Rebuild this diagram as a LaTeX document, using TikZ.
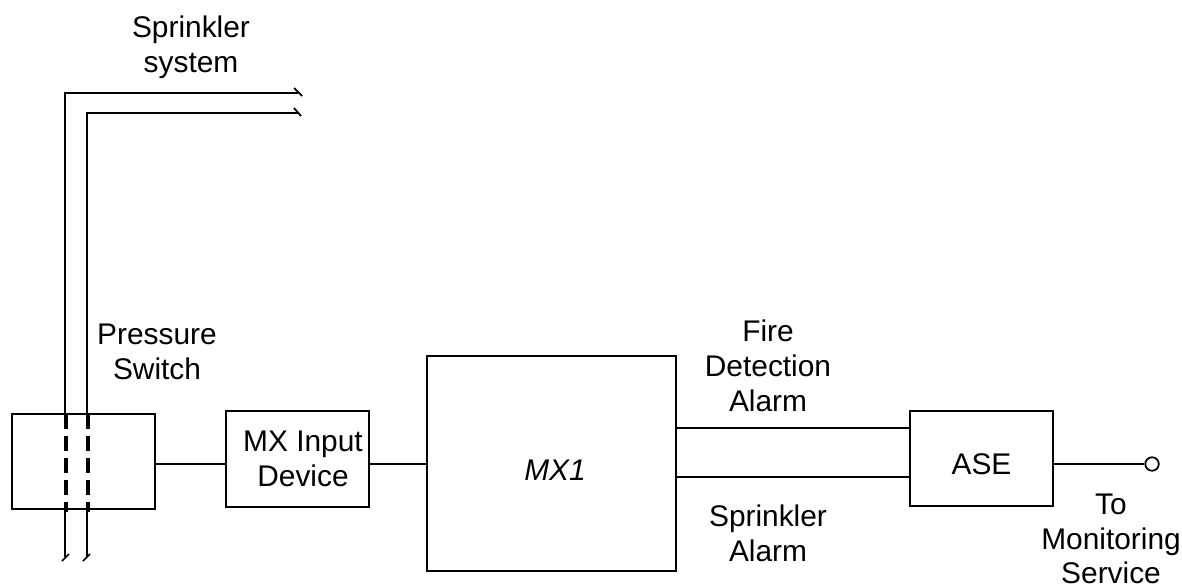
\documentclass[tikz,border=0pt]{standalone}
\usepackage{fontspec}
\setmainfont{Liberation Sans}
\begin{document}
\begin{tikzpicture}[x=0.02cm,y=-0.02cm,line width=1pt,font=\fontsize{17}{19.8}\selectfont]
    \tikzset{
        blockbox/.style={draw,inner sep=0pt,align=center,line width=1pt},
        caption/.style={align=center,inner sep=0pt},
        pipeline/.style={line width=1pt},
        pipehidden/.style={line width=1.9pt,dash pattern=on 0.3cm off 0.14cm}
    }
    \def\ypipea{93}
    \def\ypipeb{113}
    \def\xpipea{65}
    \def\xpipeb{87}

    % page size
    \useasboundingbox (0,0) rectangle (1182,587);

    % blocks
    \node[blockbox,minimum width=2.86cm,minimum height=1.9cm] (switch) at (83.5,461.5) {};
    \node[blockbox,minimum width=2.86cm,minimum height=1.92cm] (input) at (297.5,459) {};
    \node[blockbox,minimum width=4.98cm,minimum height=4.3cm] (mxone) at (551.5,463.5) {};
    \node[blockbox,minimum width=2.86cm,minimum height=1.9cm] (ase) at (981.5,458.5) {};
    \node[draw,circle,inner sep=0pt,minimum size=0.27cm] (terminal) at (1152,464) {};

    % pipe corners and ends
    \coordinate (topa) at (\xpipea,\ypipea);
    \coordinate (topb) at (\xpipeb,\ypipeb);
    \coordinate (enda) at (298,\ypipea);
    \coordinate (endb) at (298,\ypipeb);
    \coordinate (lowa) at (\xpipea,557);
    \coordinate (lowb) at (\xpipeb,557);

    % sprinkler pipes
    \draw[pipeline] (switch.north -| topa) -- (topa) -- (enda);
    \draw[pipeline] (switch.north -| topb) -- (topb) -- (endb);
    \draw[pipeline] (switch.south -| lowa) -- (lowa);
    \draw[pipeline] (switch.south -| lowb) -- (lowb);

    % break marks
    \draw[pipeline] (294,88) -- (302,96);
    \draw[pipeline] (294,108) -- (301,116);
    \draw[pipeline] (62,561) -- (69,554);
    \draw[pipeline] (83,561) -- (90,554);

    % pipes through the switch
    \draw[pipehidden] (66,414) -- (66,512);
    \draw[pipehidden] (88,414) -- (88,512);

    % links
    \coordinate (linkmid) at (0,464);
    \coordinate (linkfire) at (0,428);
    \coordinate (linksprk) at (0,477);
    \draw (switch.east |- linkmid) -- (input.west |- linkmid);
    \draw (input.east |- linkmid) -- (mxone.west |- linkmid);
    \draw (mxone.east |- linkfire) -- (ase.west |- linkfire);
    \draw (mxone.east |- linksprk) -- (ase.west |- linksprk);
    \draw (ase.east |- terminal) -- (terminal);

    % labels
    \node[caption] (lblinput) at (303,459) {MX Input\\Device};
    \node[caption] (lblmxone) at (555,470) {\itshape MX1};
    \node[caption] (lblase) at (981.5,464) {ASE};
    \node[caption] (lblsprinkler) at (191,47) {Sprinkler\\system};
    \node[caption] (lblswitch) at (157,352) {Pressure\\Switch};
    \node[caption] (lblfire) at (768,366) {Fire\\Detection\\Alarm};
    \node[caption] (lblalarm) at (768,533) {Sprinkler\\Alarm};
    \node[caption] (lblservice) at (1111,539) {To\\Monitoring\\Service};
\end{tikzpicture}
\end{document}
